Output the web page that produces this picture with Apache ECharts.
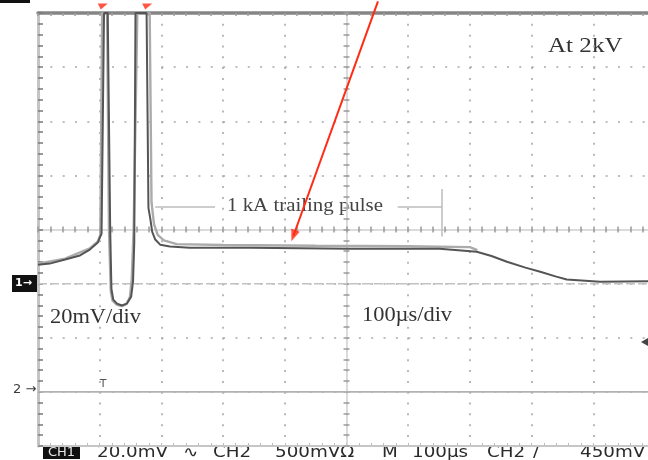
<!DOCTYPE html>
<html>
<head>
<meta charset="utf-8">
<script src="https://cdn.jsdelivr.net/npm/echarts@6/dist/echarts.min.js"></script>
<style>
  html, body { margin: 0; padding: 0; background: #ffffff; }
  #scope { width: 648px; height: 460px; }
</style>
</head>
<body>
<div id="scope"></div>
<script>
// Screen: 10 divisions of 100 µs, 8 divisions of 20 mV; CH1 ground sits at 0 mV.
const timeRange = [0, 1000];
const voltRange = [-60, 100];

// CH1 current-probe trace (µs, mV)
const ch1Time = [0, 19, 44, 68, 84, 97, 103, 107, 113, 117, 119, 122, 128, 136, 144, 151, 154, 156, 158, 176, 179, 182, 185, 190, 198, 214, 246, 344, 506, 651, 711, 735, 760, 790, 814, 840, 857, 911, 1000];
const ch1Volt = [7.0, 7.4, 8.9, 10.4, 12.6, 15.2, 18.5, 100, 100, 20, -2, -5.9, -7.4, -8.1, -7.4, -4.8, 0.7, 15, 100, 100, 28, 24, 19.2, 16.3, 14.4, 13.7, 13.3, 13.3, 12.9, 12.9, 11.8, 10.2, 8.1, 5.9, 4.4, 2.6, 1.5, 0.7, 0.9];

// Second acquisition of CH1, lighter persistence trace
const ch1bTime = [0, 44, 84, 97, 101, 104, 112, 115, 118, 121, 128, 136, 143, 149, 152, 155, 161, 181, 184, 188, 194, 204, 225, 300, 450, 600, 700, 712];
const ch1bVolt = [7.4, 9.2, 13, 15.6, 18, 100, 100, 20, -3, -6.4, -7.8, -8.3, -7.6, -5, 2, 20, 100, 100, 30, 22, 18, 16, 14.6, 14.3, 14.0, 13.8, 13.5, 12.4];

// CH2 trace (flat) and the CH1 reference level
const ch2Time = [0, 1000];
const ch2Volt = [-40, -40];
const refVolt = [0, 0];

// Annotation: trailing-pulse span (µs) and its level (mV)
const pulseSpan = [190, 287, 583, 655];
const spanLevel = 28.5;
const spanBar = [35, 17.4];

// Annotation arrow (µs, mV) and the clip flags above the screen
const arrowFrom = [551, 104.3];
const arrowTo = [414, 17.7];
const clipFlags = [105, 177];
const flagLevel = 102.4;

const zip = (a, b) => a.map((v, i) => [v, b[i]]);

const baseAxis = (extra) => Object.assign({
  type: 'value',
  axisLabel: { show: false },
  splitLine: { show: false },
  axisTick: { show: false },
  minorTick: { show: false },
  axisLine: { show: false, onZero: false }
}, extra);

const xCommon = { min: timeRange[0], max: timeRange[1], interval: 100 };
const yCommon = { min: voltRange[0], max: voltRange[1], interval: 20 };

const chart = echarts.init(document.getElementById('scope'), null, { renderer: 'canvas' });

const statusFont = { fontFamily: 'DejaVu Sans', fontSize: 15, fill: '#2a2a2a' };
const statusItems = [
  ['20.0mV', 97], ['\u223F', 183], ['CH2', 213], ['500mV\u03A9', 275],
  ['M', 382], ['100\u00B5s', 412], ['CH2', 487], ['/', 533], ['450mV', 580]
];

const serif = 'Liberation Serif';

chart.setOption({
  animation: false,
  backgroundColor: '#ffffff',
  grid: { left: 38, top: 13, width: 617, height: 433, outerBoundsMode: 'none', containLabel: false },
  xAxis: [
    // bottom edge with vertical dotted graticule
    baseAxis(Object.assign({}, xCommon, {
      position: 'bottom',
      axisLine: { show: true, onZero: false, lineStyle: { color: '#c6c6c6', width: 2 } },
      minorTick: { show: true, splitNumber: 5, length: 3, lineStyle: { color: '#bdbdbd', width: 1 } },
      axisTick: { show: true, inside: true, length: 3, lineStyle: { color: '#bdbdbd' } },
      splitLine: { show: true, lineStyle: { color: '#a8a8a8', width: 1.6, type: [2, 8.82] } }
    })),
    // top edge
    baseAxis(Object.assign({}, xCommon, {
      position: 'top',
      axisLine: { show: true, onZero: false, lineStyle: { color: '#858585', width: 3.5 } },
      minorTick: { show: true, splitNumber: 5, length: 3, lineStyle: { color: '#a0a0a0', width: 1.5 } },
      axisTick: { show: true, inside: true, length: 3, lineStyle: { color: '#a0a0a0', width: 1.5 } }
    })),
    // horizontal centre line, ticks below
    baseAxis(Object.assign({}, xCommon, {
      position: 'bottom', offset: -216.5,
      axisLine: { show: true, onZero: false, lineStyle: { color: '#cfcfcf', width: 1.5 } },
      minorTick: { show: true, splitNumber: 5, length: 3, lineStyle: { color: '#9a9a9a', width: 1.5 } },
      axisTick: { show: true, inside: false, length: 3, lineStyle: { color: '#9a9a9a', width: 1.5 } }
    })),
    // horizontal centre line, ticks above
    baseAxis(Object.assign({}, xCommon, {
      position: 'bottom', offset: -216.5,
      minorTick: { show: true, splitNumber: 5, length: 3, lineStyle: { color: '#9a9a9a', width: 1.5 } },
      axisTick: { show: true, inside: true, length: 3, lineStyle: { color: '#9a9a9a', width: 1.5 } }
    }))
  ],
  yAxis: [
    // left edge with horizontal dotted graticule
    baseAxis(Object.assign({}, yCommon, {
      position: 'left',
      axisLine: { show: true, onZero: false, lineStyle: { color: '#c4c4c4', width: 3 } },
      minorTick: { show: true, splitNumber: 5, length: 5, lineStyle: { color: '#7a7a7a', width: 1.5 } },
      axisTick: { show: true, inside: true, length: 5, lineStyle: { color: '#7a7a7a', width: 1.5 } },
      splitLine: { show: true, lineStyle: { color: '#a8a8a8', width: 1.6, type: [2, 10.34] } }
    })),
    // vertical centre line, ticks left
    baseAxis(Object.assign({}, yCommon, {
      position: 'left', offset: -308.5,
      axisLine: { show: true, onZero: false, lineStyle: { color: '#cfcfcf', width: 1.5 } },
      minorTick: { show: true, splitNumber: 5, length: 3, lineStyle: { color: '#9a9a9a', width: 1.5 } },
      axisTick: { show: true, inside: false, length: 3, lineStyle: { color: '#9a9a9a', width: 1.5 } }
    })),
    // vertical centre line, ticks right
    baseAxis(Object.assign({}, yCommon, {
      position: 'left', offset: -308.5,
      minorTick: { show: true, splitNumber: 5, length: 3, lineStyle: { color: '#9a9a9a', width: 1.5 } },
      axisTick: { show: true, inside: true, length: 3, lineStyle: { color: '#9a9a9a', width: 1.5 } }
    }))
  ],
  series: [
    {
      name: 'CH2', type: 'line', symbol: 'none', silent: true,
      data: zip(ch2Time, ch2Volt),
      lineStyle: { color: '#b2b2b2', width: 1.6 },
      markLine: {
        silent: true, symbol: 'none', animation: false,
        label: { show: false },
        lineStyle: { color: '#bcbcbc', width: 1.5, type: 'solid' },
        data: [
          [{ coord: [pulseSpan[0], spanLevel] }, { coord: [pulseSpan[1], spanLevel] }],
          [{ coord: [pulseSpan[2], spanLevel] }, { coord: [pulseSpan[3], spanLevel] }],
          [{ coord: [pulseSpan[3], spanBar[0]] }, { coord: [pulseSpan[3], spanBar[1]] }]
        ]
      }
    },
    {
      name: 'REF', type: 'line', symbol: 'none', silent: true,
      data: zip(ch2Time, refVolt),
      lineStyle: { color: '#c2c2c2', width: 1.5, type: [9, 3] }
    },
    {
      name: 'CH1 b', type: 'line', symbol: 'none', silent: true,
      data: zip(ch1bTime, ch1bVolt),
      lineStyle: { color: '#ababab', width: 2.4 }
    },
    {
      name: 'CH1', type: 'line', symbol: 'none', silent: true,
      data: zip(ch1Time, ch1Volt),
      lineStyle: { color: '#555555', width: 2 }
    },
    {
      name: 'arrow', type: 'line', symbol: 'none', silent: true, clip: false, z: 10,
      data: [arrowFrom, arrowTo],
      lineStyle: { color: '#ff2b12', width: 2 }
    },
    {
      name: 'arrow head', type: 'scatter', silent: true, clip: false, z: 11,
      data: [arrowTo],
      symbol: 'triangle', symbolSize: [9, 12], symbolRotate: 160,
      itemStyle: { color: '#ff2b12' }
    },
    {
      name: 'clip flags', type: 'scatter', silent: true, clip: false, z: 11,
      data: clipFlags.map(t => [t, flagLevel]),
      symbol: 'path://M0,0 L10,0 L3,6 Z', symbolSize: [10, 6],
      itemStyle: { color: '#ff2b12' }
    }
  ],
  graphic: [
    { type: 'rect', shape: { x: 0, y: 0, width: 30, height: 3 }, style: { fill: '#111' } },
    // CH1 ground marker
    { type: 'rect', shape: { x: 12, y: 275, width: 26, height: 17 }, style: { fill: '#111' } },
    { type: 'text', x: 15, y: 283.5, style: { text: '1\u2192', fontFamily: 'DejaVu Sans', fontWeight: 'bold', fontSize: 11, fill: '#ffffff', verticalAlign: 'middle' } },
    // CH2 ground marker
    { type: 'text', x: 13, y: 390, style: { text: '2 \u2192', fontFamily: 'DejaVu Sans', fontSize: 13, fill: '#3a3a3a', verticalAlign: 'middle' } },
    // trigger position
    { type: 'text', x: 103, y: 384, style: { text: 'T', fontFamily: 'DejaVu Sans', fontSize: 11, fill: '#555', align: 'center', verticalAlign: 'middle' } },
    // trigger level
    { type: 'polygon', shape: { points: [[641, 342], [648, 338], [648, 346]] }, style: { fill: '#444' } },
    // annotations
    { type: 'text', x: 548, y: 46, scaleX: 1.14, style: { text: 'At 2kV', fontFamily: serif, fontSize: 22, fill: '#333', verticalAlign: 'middle' } },
    { type: 'text', x: 227, y: 206, scaleX: 1.16, style: { text: '1 kA trailing pulse', fontFamily: serif, fontSize: 18, fill: '#444', verticalAlign: 'middle' } },
    { type: 'text', x: 50, y: 318, scaleX: 1.12, style: { text: '20mV/div', fontFamily: serif, fontSize: 20, fill: '#333', verticalAlign: 'middle' } },
    { type: 'text', x: 362, y: 316, scaleX: 1.12, style: { text: '100\u00B5s/div', fontFamily: serif, fontSize: 20, fill: '#333', verticalAlign: 'middle' } },
    // status line
    { type: 'rect', shape: { x: 43, y: 446, width: 37, height: 13 }, style: { fill: '#111' } },
    { type: 'text', x: 61.5, y: 453, style: Object.assign({}, statusFont, { text: 'CH1', fill: '#e8e8e8', fontSize: 13, align: 'center', verticalAlign: 'middle' }) }
  ].concat(statusItems.map(([txt, x]) => ({
    type: 'text', x: x, y: 453, scaleX: 1.22,
    style: Object.assign({}, statusFont, { text: txt, verticalAlign: 'middle' })
  })))
});
</script>
</body>
</html>
